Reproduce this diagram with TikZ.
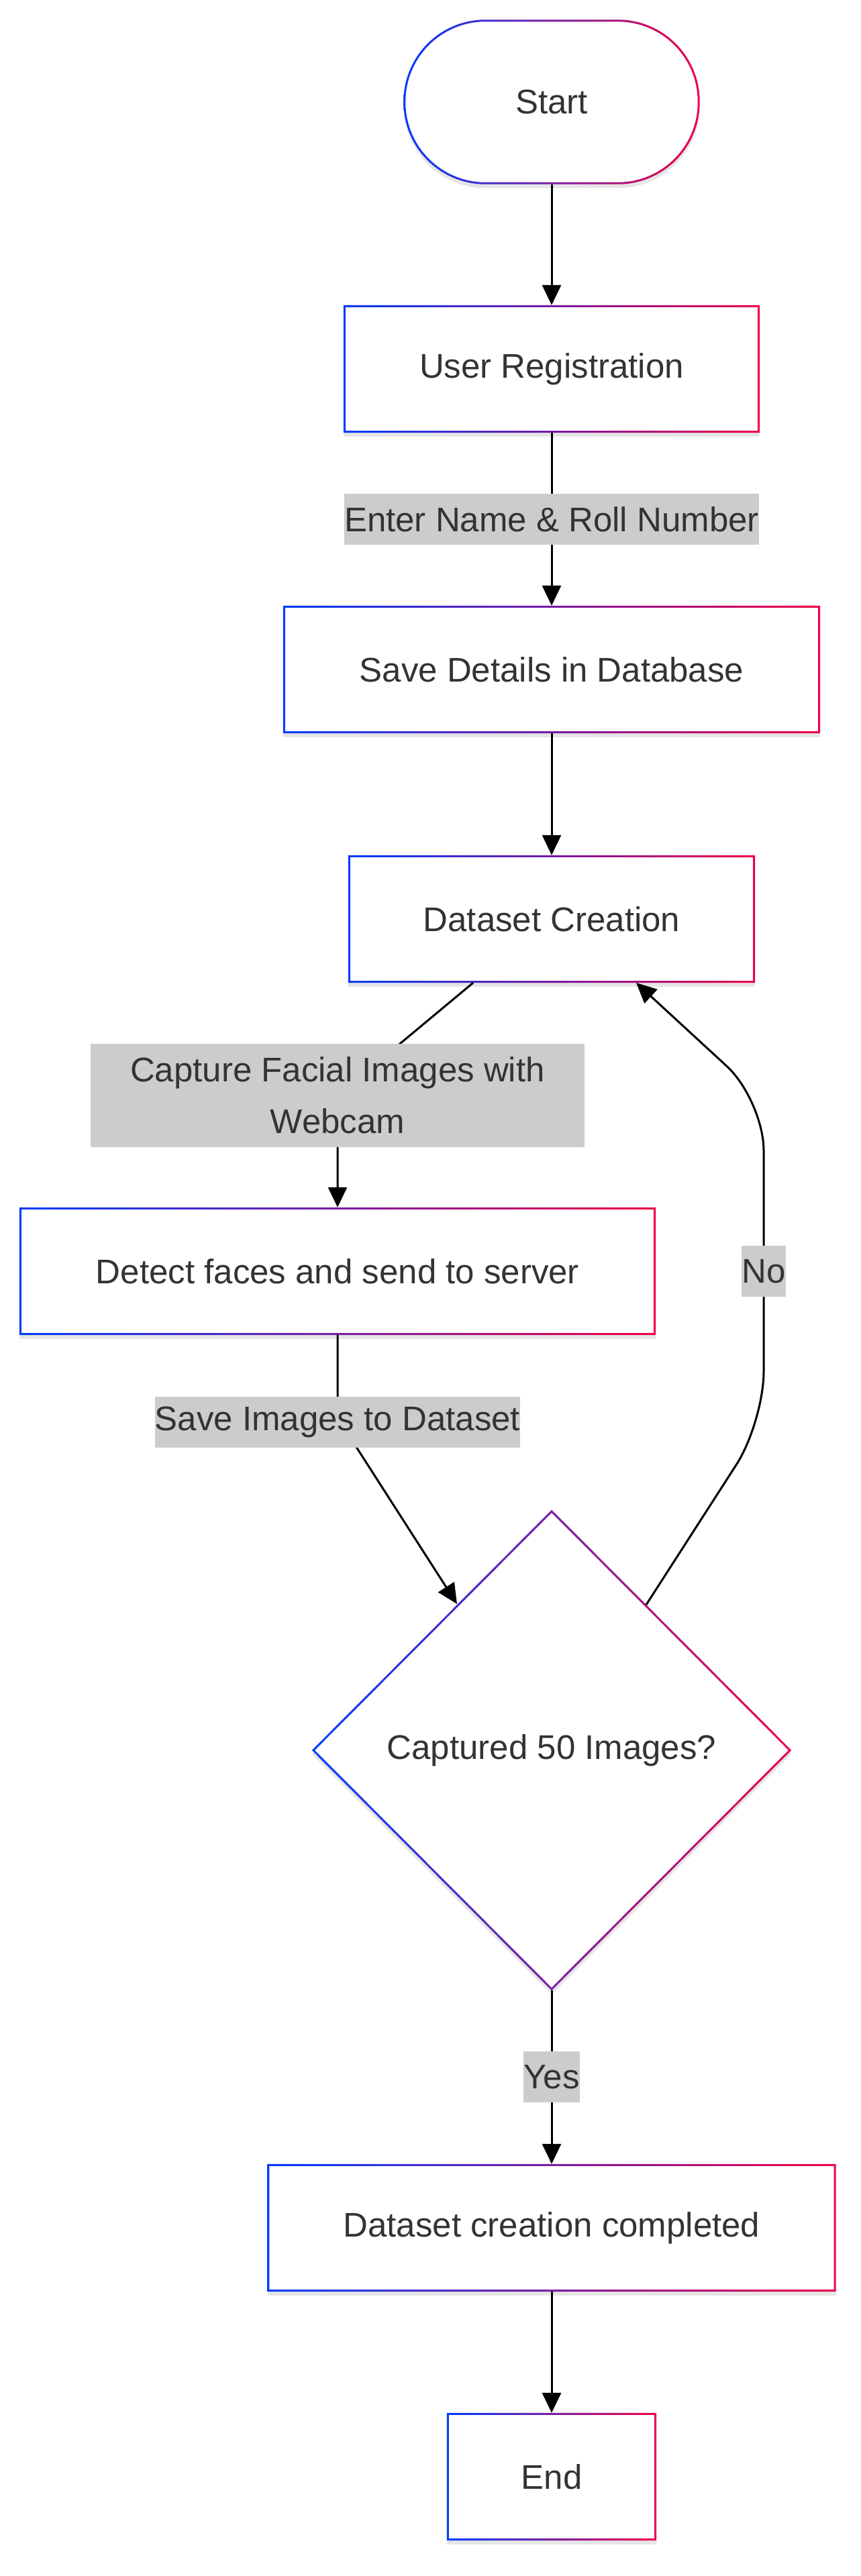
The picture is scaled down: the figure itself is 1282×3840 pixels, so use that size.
\documentclass[tikz,border=0pt]{standalone}
\usepackage{fontspec}
\setmainfont{Liberation Sans}
\usetikzlibrary{arrows.meta,shapes.geometric,shadows}
\definecolor{gblue}{RGB}{0,60,255}
\definecolor{gred}{RGB}{240,0,70}
\definecolor{txt}{RGB}{51,51,51}
\definecolor{lblbg}{RGB}{204,204,204}
\newcommand\ringbox[1]{\shade[left color=gblue,right color=gred,even odd rule]
  (#1.south west) rectangle (#1.north east)
  ([shift={(3pt,3pt)}]#1.south west) rectangle ([shift={(-3pt,-3pt)}]#1.north east);}
\begin{document}
\begin{tikzpicture}[x=1pt,y=-1pt,
  font=\fontsize{51}{77}\selectfont, text=txt,
  nbox/.style={rectangle, fill=white, inner sep=0pt, text=txt,
    drop shadow={shadow xshift=0pt, shadow yshift=-6pt, opacity=0.10, fill=black}},
  lbl/.style={fill=lblbg, inner sep=0pt, minimum height=76pt, text=txt},
  edge/.style={line width=3pt, draw=black, -{Triangle[length=30pt,width=28pt]}},
  plain/.style={line width=3pt, draw=black}]
\useasboundingbox (0,0) rectangle (1282,3840);
\fill[white] (0,0) rectangle (1282,3840);

% nodes
\node[nbox, minimum width=441pt, minimum height=245pt, rounded corners=122pt] (start) at (822,152) {Start};
\node[nbox, minimum width=620pt, minimum height=190pt] (ureg) at (822,550) {User Registration};
\node[nbox, minimum width=800pt, minimum height=190pt] (save) at (822,998) {Save Details in Database};
\node[nbox, minimum width=606pt, minimum height=190pt] (dc) at (822,1370) {Dataset Creation};
\node[nbox, minimum width=948pt, minimum height=190pt] (detect) at (503,1895) {Detect faces and send to server};
\node[nbox, shape=diamond, minimum width=714pt, minimum height=716pt] (dia) at (822,2609) {Captured 50 Images?};
\node[nbox, minimum width=847pt, minimum height=190pt] (done) at (822,3321) {Dataset creation completed};
\node[nbox, minimum width=312pt, minimum height=190pt] (end) at (822,3692) {End};

% gradient borders
\shade[left color=gblue,right color=gred,even odd rule]
  [rounded corners=122pt] (start.south west) rectangle (start.north east)
  [rounded corners=119pt] ([shift={(3pt,3pt)}]start.south west) rectangle ([shift={(-3pt,-3pt)}]start.north east);
\ringbox{ureg}
\ringbox{save}
\ringbox{dc}
\ringbox{detect}
\ringbox{done}
\ringbox{end}
\shade[left color=gblue,right color=gred,even odd rule]
  (dia.north) -- (dia.east) -- (dia.south) -- (dia.west) -- cycle
  ([yshift=-4.2pt]dia.north) -- ([xshift=-4.2pt]dia.east) -- ([yshift=4.2pt]dia.south) -- ([xshift=4.2pt]dia.west) -- cycle;

% connector end points
\coordinate (dcA) at (705,1465);
\coordinate (dcIn) at (948,1465);
\coordinate (diaIn) at (681,2391);
\coordinate (diaOut) at (963,2392);

% edges
\draw[edge] (start) -- (ureg);
\draw[edge] (ureg) -- (save);
\draw[edge] (save) -- (dc);
\draw[edge] (dcA) -- (585,1565) .. controls (503,1635) .. (503,1700) -- (detect);
\draw[edge] (detect.south) -- (503,2075) .. controls (503,2110) .. (520,2140) -- (diaIn);
\draw[edge, rounded corners=75pt] (diaOut) -- (1138,2120) -- (1138,1640) -- (dcIn);
\draw[edge] (dia) -- (done);
\draw[edge] (done) -- (end);

% edge labels
\node[lbl] (l1) at (822,774) {Enter Name \& Roll Number};
\node[lbl, align=center, minimum width=736pt, minimum height=154pt] (l2) at (503,1633) {Capture Facial Images with\\Webcam};
\node[lbl] (l3) at (503,2120) {Save Images to Dataset};
\node[lbl] (l4) at (1138,1895) {No};
\node[lbl] (l5) at (822,3096) {Yes};
\end{tikzpicture}
\end{document}
